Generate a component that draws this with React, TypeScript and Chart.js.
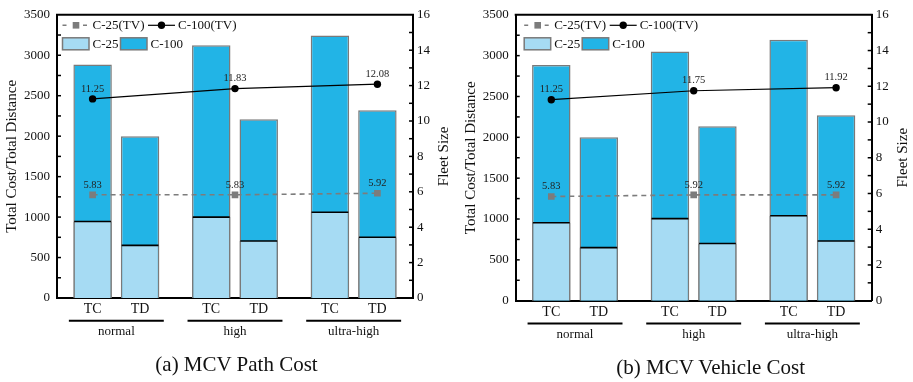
import React, { useEffect, useRef } from "react";
import { Chart, registerables } from "chart.js";
Chart.register(...registerables);

// ---- data ----
const barPositions = [0, 1, 2.5, 3.5, 5, 6];
const barLabels = ["TC", "TD", "TC", "TD", "TC", "TD"];
const groupLabels = ["normal", "high", "ultra-high"];
const groupCenters = [0.5, 3, 5.5];
const linePositions = [0, 3, 6];

const pathC25 = [945, 650, 1000, 705, 1060, 750];
const pathC100 = [2885, 2000, 3125, 2210, 3245, 2320];
const pathTV25 = [5.83, 5.83, 5.92];
const pathTV100 = [11.25, 11.83, 12.08];

const vehC25 = [955, 650, 1005, 700, 1040, 730];
const vehC100 = [2885, 2000, 3050, 2135, 3195, 2270];
const vehTV25 = [5.83, 5.92, 5.92];
const vehTV100 = [11.25, 11.75, 11.92];

const leftMax = 3500;
const leftStep = 500;
const rightMax = 16;
const rightStep = 2;

const FONT = "'Liberation Serif', 'Times New Roman', serif";
const C25_COLOR = "#A6DBF3";
const C100_COLOR = "#22B4E6";
const BAR_BORDER = "#7a7a7a";
const GRAY = "#7c7c7c";

type Spec = {
  c25: number[];
  c100: number[];
  tv25: number[];
  tv100: number[];
  width: number;
  L: number;
  R: number;
  T: number;
  B: number;
  legendDx: number;
};

const H = 382;

function makeChart(canvas: HTMLCanvasElement, s: Spec) {
  const decor = {
    id: "decor",
    afterDatasetDraw(chart: any, args: any) {
      if (args.index !== 1) return;
      const ctx = chart.ctx;
      ctx.save();
      ctx.strokeStyle = "#000";
      ctx.lineWidth = 1.6;
      args.meta.data.forEach((el: any) => {
        const p = el.getProps(["x", "y", "width"], true);
        ctx.beginPath();
        ctx.moveTo(p.x - p.width / 2 + 0.8, p.y);
        ctx.lineTo(p.x + p.width / 2 - 0.8, p.y);
        ctx.stroke();
      });
      ctx.restore();
    },
    afterDatasetsDraw(chart: any) {
      const ctx = chart.ctx;
      ctx.save();
      ctx.font = `10.5px ${FONT}`;
      ctx.fillStyle = "#222";
      ctx.textAlign = "center";
      ctx.textBaseline = "middle";
      [2, 3].forEach((di) => {
        const meta = chart.getDatasetMeta(di);
        const vals = chart.data.datasets[di].data as any[];
        meta.data.forEach((el: any, i: number) => {
          ctx.fillText(vals[i].y.toFixed(2), el.x, el.y - 10);
        });
      });
      ctx.restore();
    },
    afterDraw(chart: any) {
      const ctx = chart.ctx;
      const ca = chart.chartArea;
      const ys = chart.scales.y;
      const y1 = chart.scales.y1;
      const xs = chart.scales.x;
      ctx.save();
      // top border
      ctx.strokeStyle = "#000";
      ctx.lineWidth = 2;
      ctx.beginPath();
      ctx.moveTo(ca.left - 1, ca.top);
      ctx.lineTo(ca.right + 1, ca.top);
      ctx.stroke();
      // inward ticks
      ctx.lineWidth = 1.5;
      for (let v = leftStep / 2; v < leftMax; v += leftStep / 2) {
        const y = ys.getPixelForValue(v);
        ctx.beginPath();
        ctx.moveTo(ca.left, y);
        ctx.lineTo(ca.left + 4, y);
        ctx.stroke();
      }
      for (let v = rightStep / 2; v < rightMax; v += rightStep / 2) {
        const y = y1.getPixelForValue(v);
        ctx.beginPath();
        ctx.moveTo(ca.right, y);
        ctx.lineTo(ca.right - 4, y);
        ctx.stroke();
      }
      // legend
      const lx = ca.left + s.legendDx;
      const r1 = ca.top + 10.5;
      const r2 = ca.top + 29;
      ctx.font = `13px ${FONT}`;
      ctx.fillStyle = "#111";
      ctx.textAlign = "left";
      ctx.textBaseline = "middle";
      // C-25(TV)
      ctx.strokeStyle = GRAY;
      ctx.lineWidth = 1.5;
      ctx.beginPath();
      ctx.moveTo(lx + 5.5, r1);
      ctx.lineTo(lx + 9.5, r1);
      ctx.moveTo(lx + 26, r1);
      ctx.lineTo(lx + 30, r1);
      ctx.stroke();
      ctx.fillStyle = GRAY;
      ctx.fillRect(lx + 19 - 3.3, r1 - 3.3, 6.6, 6.6);
      ctx.fillStyle = "#111";
      ctx.fillText("C-25(TV)", lx + 35.5, r1 + 0.5);
      // C-100(TV)
      ctx.strokeStyle = "#000";
      ctx.lineWidth = 1.2;
      ctx.beginPath();
      ctx.moveTo(lx + 91, r1);
      ctx.lineTo(lx + 118, r1);
      ctx.stroke();
      ctx.fillStyle = "#000";
      ctx.beginPath();
      ctx.arc(lx + 104.5, r1, 3.7, 0, Math.PI * 2);
      ctx.fill();
      ctx.fillStyle = "#111";
      ctx.fillText("C-100(TV)", lx + 121, r1 + 0.5);
      // bar legend
      ctx.lineWidth = 1.5;
      ctx.strokeStyle = BAR_BORDER;
      ctx.fillStyle = C25_COLOR;
      ctx.fillRect(lx + 5.5, r2 - 6, 26.5, 12);
      ctx.strokeRect(lx + 5.5, r2 - 6, 26.5, 12);
      ctx.fillStyle = C100_COLOR;
      ctx.fillRect(lx + 63.5, r2 - 6, 26.5, 12);
      ctx.strokeRect(lx + 63.5, r2 - 6, 26.5, 12);
      ctx.fillStyle = "#111";
      ctx.fillText("C-25", lx + 35.5, r2 + 0.5);
      ctx.fillText("C-100", lx + 93.5, r2 + 0.5);
      // group lines and labels
      ctx.strokeStyle = "#000";
      ctx.lineWidth = 2;
      ctx.textAlign = "center";
      groupCenters.forEach((c, i) => {
        const a = xs.getPixelForValue(c - 1);
        const b = xs.getPixelForValue(c + 1);
        ctx.beginPath();
        ctx.moveTo(a, ca.bottom + 22.7);
        ctx.lineTo(b, ca.bottom + 22.7);
        ctx.stroke();
        ctx.fillText(groupLabels[i], (a + b) / 2, ca.bottom + 33.5);
      });
      // axis titles
      ctx.font = `15px ${FONT}`;
      const midY = (ca.top + ca.bottom) / 2;
      ctx.save();
      ctx.translate(ca.left - 44.5, midY);
      ctx.rotate(-Math.PI / 2);
      ctx.fillText("Total Cost/Total Distance", 0, 0);
      ctx.restore();
      ctx.save();
      ctx.translate(ca.right + 31, midY);
      ctx.rotate(-Math.PI / 2);
      ctx.fillText("Fleet Size", 0, 0);
      ctx.restore();
      ctx.restore();
    },
  };

  const toPts = (xs: number[], ys: number[]) => xs.map((x, i) => ({ x, y: ys[i] }));

  return new Chart(canvas, {
    type: "bar",
    data: {
      datasets: [
        {
          type: "bar",
          label: "C-100",
          data: toPts(barPositions, s.c100) as any,
          backgroundColor: C100_COLOR,
          borderColor: BAR_BORDER,
          borderWidth: 1.5,
          borderSkipped: "bottom",
          grouped: false,
          barPercentage: 0.81,
          categoryPercentage: 1,
          order: 3,
          yAxisID: "y",
        },
        {
          type: "bar",
          label: "C-25",
          data: toPts(barPositions, s.c25) as any,
          backgroundColor: C25_COLOR,
          borderColor: BAR_BORDER,
          borderWidth: { top: 0, left: 1.5, right: 1.5, bottom: 0 },
          grouped: false,
          barPercentage: 0.81,
          categoryPercentage: 1,
          order: 2,
          yAxisID: "y",
        },
        {
          type: "line",
          label: "C-25(TV)",
          data: toPts(linePositions, s.tv25) as any,
          borderColor: GRAY,
          backgroundColor: GRAY,
          borderWidth: 1.6,
          borderDash: [5, 4],
          pointStyle: "rect",
          pointRadius: 4.7,
          pointBorderWidth: 0,
          order: 1,
          yAxisID: "y1",
        },
        {
          type: "line",
          label: "C-100(TV)",
          data: toPts(linePositions, s.tv100) as any,
          borderColor: "#000",
          backgroundColor: "#000",
          borderWidth: 1.2,
          pointStyle: "circle",
          pointRadius: 3.7,
          pointBorderWidth: 0,
          order: 0,
          yAxisID: "y1",
        },
      ] as any,
    },
    options: {
      responsive: false,
      animation: false,
      events: [],
      layout: { padding: { top: s.T, left: 0, right: 0, bottom: 0 } },
      plugins: {
        legend: { display: false },
        tooltip: { enabled: false },
        title: { display: false },
      },
      scales: {
        x: {
          type: "linear",
          min: -0.75,
          max: 6.75,
          offset: false,
          grid: { display: false, drawTicks: false, offset: false },
          border: { display: true, color: "#000", width: 2 },
          afterBuildTicks: (scale: any) => {
            scale.ticks = barPositions.map((v) => ({ value: v }));
          },
          afterFit: (scale: any) => {
            scale.height = H - s.B;
          },
          ticks: {
            autoSkip: false,
            maxRotation: 0,
            padding: 3,
            color: "#111",
            font: { family: FONT, size: 14 },
            callback: (_v: any, i: number) => barLabels[i],
          },
        },
        y: {
          type: "linear",
          position: "left",
          min: 0,
          max: leftMax,
          grid: { display: false, drawTicks: false },
          border: { display: true, color: "#000", width: 2 },
          afterFit: (scale: any) => {
            scale.width = s.L;
          },
          ticks: {
            stepSize: leftStep,
            padding: 7,
            color: "#111",
            font: { family: FONT, size: 13 },
            callback: (v: any) => String(v),
          },
        },
        y1: {
          type: "linear",
          position: "right",
          min: 0,
          max: rightMax,
          grid: { display: false, drawTicks: false },
          border: { display: true, color: "#000", width: 2 },
          afterFit: (scale: any) => {
            scale.width = s.width - s.R;
          },
          ticks: {
            stepSize: rightStep,
            padding: 4,
            color: "#111",
            font: { family: FONT, size: 13 },
            callback: (v: any) => String(v),
          },
        },
      },
    } as any,
    plugins: [decor as any],
  });
}

function Panel(props: { spec: Spec; left: number }) {
  const ref = useRef<HTMLCanvasElement | null>(null);
  useEffect(() => {
    if (!ref.current) return;
    const c = makeChart(ref.current, props.spec);
    return () => c.destroy();
  }, []);
  return (
    <canvas
      ref={ref}
      width={props.spec.width}
      height={H}
      style={{ position: "absolute", left: props.left, top: 0, width: props.spec.width, height: H }}
    />
  );
}

const specA: Spec = {
  c25: pathC25,
  c100: pathC100,
  tv25: pathTV25,
  tv100: pathTV100,
  width: 456,
  L: 57,
  R: 413,
  T: 12,
  B: 298,
  legendDx: 0,
};

const specB: Spec = {
  c25: vehC25,
  c100: vehC100,
  tv25: vehTV25,
  tv100: vehTV100,
  width: 455,
  L: 57.7,
  R: 413.7,
  T: 13.5,
  B: 300.7,
  legendDx: 3,
};

export default function App() {
  const cap: React.CSSProperties = {
    position: "absolute",
    width: 320,
    textAlign: "center",
    fontFamily: FONT,
    fontSize: 21,
    lineHeight: "24px",
    color: "#111",
    whiteSpace: "nowrap",
  };
  return (
    <div
      style={{
        position: "fixed",
        left: 0,
        top: 0,
        width: 913,
        height: 382,
        background: "#fff",
        overflow: "hidden",
      }}
    >
      <Panel spec={specA} left={0} />
      <Panel spec={specB} left={458} />
      <div style={{ ...cap, left: 236.5 - 160, top: 352 }}>(a) MCV Path Cost</div>
      <div style={{ ...cap, left: 710.7 - 160, top: 355 }}>(b) MCV Vehicle Cost</div>
    </div>
  );
}
